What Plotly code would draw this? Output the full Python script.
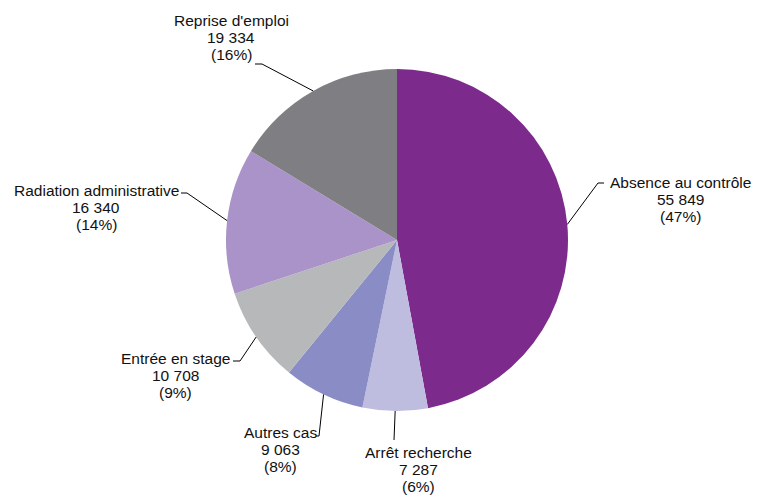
import math
import plotly.graph_objects as go

# Sorties par motif
categories = ["Absence au contrôle", "Arrêt recherche", "Autres cas",
              "Entrée en stage", "Radiation administrative", "Reprise d'emploi"]
values = [55849, 7287, 9063, 10708, 16340, 19334]
colors = ["#7D2A8D", "#BFBDDF", "#8A8CC5", "#B7B8BA", "#AA93C8", "#7F7F83"]

W, H = 767, 495
CX, CY, R = 397, 240, 171
LINE_GAP = 17  # pixels between label lines

# Label placement (pixels): text block centre, elbow of the leader line, end of the leader tick
label_style = {
    "Absence au contrôle":      dict(text=(680, 200), elbow=(598, 183), end=(604, 183)),
    "Arrêt recherche":          dict(text=(418, 469), elbow=(394, 440), end=(394, 440)),
    "Autres cas":               dict(text=(280, 449), elbow=(319, 436), end=(316, 436)),
    "Entrée en stage":          dict(text=(175, 375), elbow=(240, 361), end=(233, 361)),
    "Radiation administrative": dict(text=(96, 207),  elbow=(187, 193), end=(181, 193)),
    "Reprise d'emploi":         dict(text=(231, 37),  elbow=(262, 64),  end=(255, 64)),
}


def px(x, y):
    return x / W, 1 - y / H


def fmt(n):
    return f"{n:,}".replace(",", " ")


fig = go.Figure(go.Pie(
    labels=categories, values=values, sort=False, direction="clockwise", rotation=0,
    marker=dict(colors=colors, line=dict(width=0)),
    textinfo="none", hoverinfo="label+value+percent", showlegend=False,
    domain=dict(x=[(CX - R) / W, (CX + R) / W], y=[1 - (CY + R) / H, 1 - (CY - R) / H]),
))

total = sum(values)
cum = 0
annotations, shapes = [], []
for cat, v in zip(categories, values):
    mid = (cum + v / 2) / total * 2 * math.pi
    cum += v
    ex, ey = CX + R * math.sin(mid), CY - R * math.cos(mid)
    st = label_style[cat]
    pts = [(ex, ey), st["elbow"], st["end"]]
    path = "M " + " L ".join(f"{px(*p)[0]},{px(*p)[1]}" for p in pts)
    shapes.append(dict(type="path", xref="paper", yref="paper", path=path,
                       line=dict(color="black", width=1)))
    pct = round(v / total * 100)
    lines = [cat, fmt(v), f"({pct}%)"]
    cx, cy = st["text"]
    for i, line in enumerate(lines):
        tx, ty = px(cx, cy + (i - 1) * LINE_GAP)
        annotations.append(dict(
            x=tx, y=ty, xref="paper", yref="paper", xanchor="center", yanchor="middle",
            showarrow=False, text=line,
            font=dict(family="Liberation Sans, Arial, sans-serif", size=15.5, color="#111111"),
        ))

fig.update_layout(
    width=W, height=H, margin=dict(l=0, r=0, t=0, b=0),
    paper_bgcolor="white", plot_bgcolor="white",
    annotations=annotations, shapes=shapes,
)

fig.write_html("out.html")
